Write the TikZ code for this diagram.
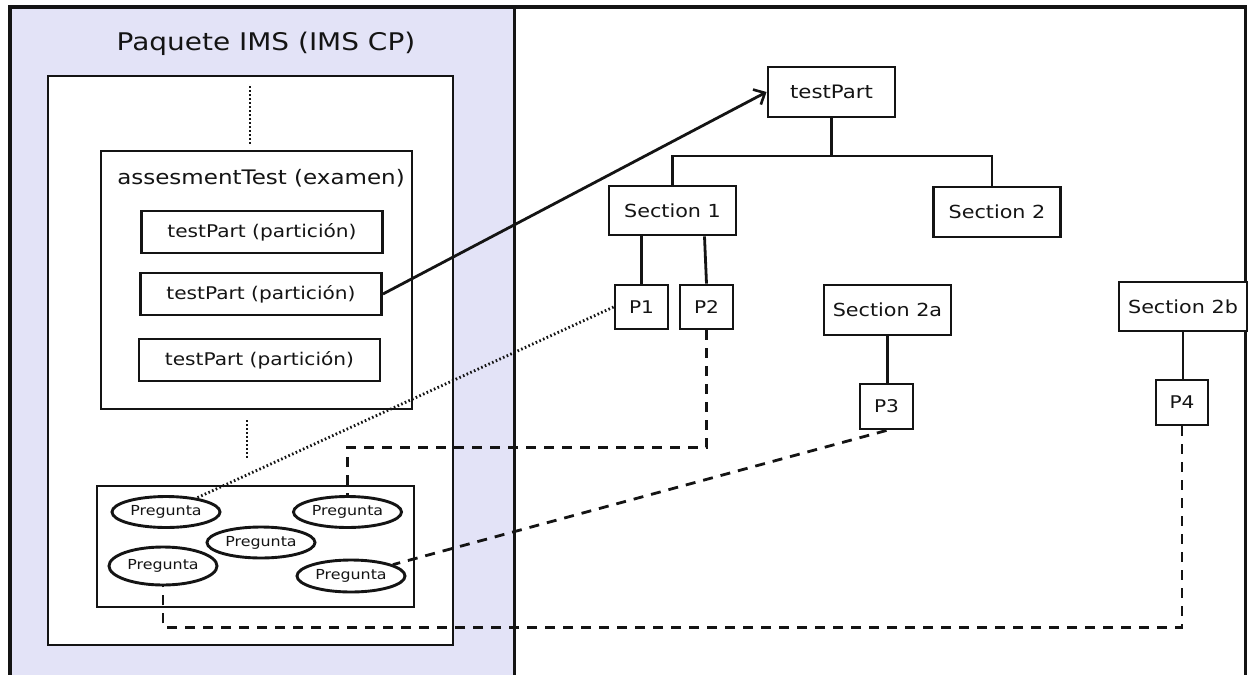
\documentclass[tikz,border=0pt]{standalone}
\usepackage{fontspec}
\setmainfont{DejaVu Sans}[FakeStretch=1.15]
\usetikzlibrary{shapes.geometric,arrows.meta}
\definecolor{lav}{RGB}{227,227,247}
\definecolor{ink}{RGB}{20,20,20}
\tikzset{
  box/.style={draw=ink, line width=2.9pt, fill=white, inner sep=0pt, text=ink},
  qbox/.style={box, ellipse, minimum width=108pt, minimum height=31pt,
    font=\fontsize{13.8}{15}\selectfont},
  partbox/.style={box, minimum width=241pt, minimum height=42pt,
    font=\fontsize{17.5}{20}\selectfont},
  secbox/.style={box, minimum width=127pt, minimum height=49pt,
    font=\fontsize{18}{20}\selectfont},
  itembox/.style={box, minimum width=53pt, minimum height=44pt,
    font=\fontsize{17.5}{20}\selectfont},
  link/.style={draw=ink, line width=2.8pt},
  dashlink/.style={link, dash pattern=on 10pt off 8pt},
  dotlink/.style={link, line width=2.8pt, dash pattern=on 1.6pt off 2.4pt},
}
\begin{document}
\begin{tikzpicture}[x=1pt, y=-1pt]
\useasboundingbox (0,0) rectangle (1251,675);
\clip (0,0) rectangle (1251,675);
\fill[white] (0,0) rectangle (1251,675);

% left panel: the IMS package
\fill[lav] (10,7) rectangle (514.5,690);
\draw[ink, line width=3.8pt] (10,690) -- (10,7) -- (1245.5,7) -- (1245.5,690);
\draw[ink, line width=3.2pt] (514.5,7) -- (514.5,690);
\node[text=ink, font=\fontsize{24.3}{26}\selectfont] (pkgtitle) at (266,44) {Paquete IMS (IMS CP)};

\node[box, minimum width=405pt, minimum height=569pt] (pkg) at (250.5,360.5) {};
\draw[dotlink] (250,86) -- (250,144);

% assessment test with its parts
\node[box, minimum width=311pt, minimum height=258pt] (assess) at (256.5,280) {};
\node[text=ink, font=\fontsize{20}{22}\selectfont] (assesstitle) at (261,178) {assesmentTest (examen)};
\node[partbox] (tp1) at (262,232) {testPart (partición)};
\node[partbox] (tp2) at (261,294) {testPart (partición)};
\node[partbox] (tp3) at (259.5,360) {testPart (partición)};

\draw[dotlink] (247,420) -- (247,458);

% question bank
\node[box, minimum width=317pt, minimum height=121pt] (bank) at (255.5,546.5) {};
\node[qbox] (q1) at (166,512) {Pregunta};
\node[qbox] (q2) at (347.5,512) {Pregunta};
\node[qbox] (q3) at (261,542.5) {Pregunta};
\node[qbox, minimum height=38pt] (q4) at (163,566) {Pregunta};
\node[qbox, minimum height=32pt] (q5) at (351,576) {Pregunta};

% test part structure
\node[secbox, minimum height=50pt, font=\fontsize{18.5}{20}\selectfont] (part) at (831.5,92) {testPart};
\node[secbox] (s1) at (672.5,210.5) {Section 1};
\node[secbox, minimum height=50pt] (s2) at (997,212) {Section 2};
\node[itembox] (p1) at (641.5,307) {P1};
\node[itembox] (p2) at (706.5,307) {P2};
\node[secbox, minimum height=50pt] (s2a) at (887.5,310) {Section 2a};
\node[itembox, minimum height=45pt] (p3) at (886.5,406.5) {P3};
\node[secbox, minimum width=128pt] (s2b) at (1183,306.5) {Section 2b};
\node[itembox, minimum width=52pt, minimum height=45pt] (p4) at (1182,402.5) {P4};

\coordinate (bus) at (831.5,156);
\draw[link] (part.south) -- (bus);
\draw[link] (s1.north) |- (bus) -| ([xshift=-5pt]s2.north);
\draw[link] (p1.north) -- (p1.north |- s1.south);
\draw[link] (p2.north) -- ([xshift=-2pt]p2.north |- s1.south);
\draw[link] (s2a.south) -- (s2a.south |- p3.north);
\draw[link] (s2b.south) -- (s2b.south |- p4.north);

% references between the package and the structure
\draw[link, -{Straight Barb[length=9pt, width=17pt, line width=2.6pt]}] (tp2.east) -- (part.west);
\draw[dotlink] (p1.west) -- (q1);
\draw[dashlink] (p2.south) -- ++(0,117) -| (q2.north);
\draw[dashlink] (p3.south) -- (q5);
\draw[dashlink] (p4.south) -- ++(0,201) -| (q4.south);
\end{tikzpicture}
\end{document}
